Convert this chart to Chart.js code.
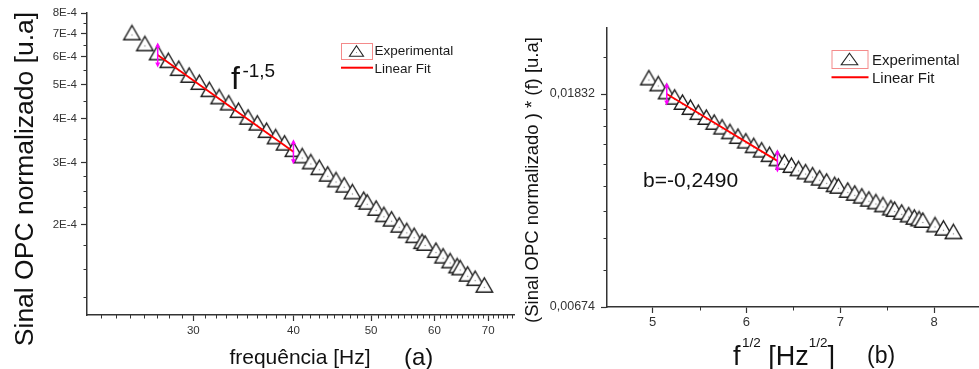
<!DOCTYPE html>
<html lang="pt">
<head>
<meta charset="utf-8">
<title>Sinal OPC normalizado</title>
<script src="https://cdn.jsdelivr.net/npm/chart.js@4.4.1/dist/chart.umd.min.js"></script>
<style>
  html, body { margin: 0; padding: 0; background: #fff; }
  #painel { position: relative; width: 979px; height: 369px; overflow: hidden; }
  #graficoA { position: absolute; left: 0; top: 0; }
  #graficoB { position: absolute; left: 518px; top: 0; }
</style>
</head>
<body>
<div id="painel">
  <canvas id="graficoA" width="518" height="369"></canvas>
  <canvas id="graficoB" width="461" height="369"></canvas>
</div>
<script>
// ---- painel (a): log-log, sinal x frequencia ----
const freqA = [25.15, 26.10, 27.08, 27.92, 28.77, 29.64, 30.52, 31.41, 32.31, 33.22,
               34.16, 35.11, 36.06, 37.03, 38.01, 39.00, 40.00, 41.02, 42.05, 43.09,
               44.14, 45.21, 46.29, 47.39, 48.95, 49.45, 50.74, 51.88, 53.04, 54.21,
               55.40, 56.59, 57.90, 58.40, 60.25, 61.50, 62.76, 64.03, 64.60, 66.00,
               67.43, 69.24];
const sinalA = [6.93e-4, 6.45e-4, 6.08e-4, 5.78e-4, 5.49e-4, 5.25e-4, 5.01e-4, 4.78e-4, 4.56e-4, 4.38e-4,
                4.17e-4, 3.99e-4, 3.84e-4, 3.66e-4, 3.51e-4, 3.37e-4, 3.23e-4, 3.10e-4, 2.98e-4, 2.87e-4,
                2.75e-4, 2.65e-4, 2.56e-4, 2.45e-4, 2.33e-4, 2.29e-4, 2.20e-4, 2.11e-4, 2.05e-4, 1.97e-4,
                1.90e-4, 1.84e-4, 1.77e-4, 1.75e-4, 1.67e-4, 1.61e-4, 1.56e-4, 1.51e-4, 1.49e-4, 1.43e-4,
                1.39e-4, 1.33e-4];
const ajusteFreqA = [27.08, 40.0];
const ajusteSinalA = [6.08e-4, 3.23e-4];
const ticksXA = [30, 40, 50, 60, 70];
const menoresXA = [23, 24, 25, 26, 27, 28, 29, 31, 32, 33, 34, 35, 36, 37, 38, 39,
                   41, 42, 43, 44, 45, 46, 47, 48, 49, 51, 52, 53, 54, 55, 56, 57, 58, 59,
                   61, 62, 63, 64, 65, 66, 67, 68, 69, 71, 72, 73, 74, 75];
const ticksYA = [2e-4, 3e-4, 4e-4, 5e-4, 6e-4, 7e-4, 8e-4];
const menoresYA = [1.25e-4, 1.5e-4, 1.75e-4, 2.25e-4, 2.5e-4, 2.75e-4, 3.5e-4, 4.5e-4, 5.5e-4, 6.5e-4, 7.5e-4];

// ---- painel (b): ln(sinal * f) x raiz de f ----
const raizFB = [4.96, 5.06, 5.15, 5.234, 5.318, 5.403, 5.487, 5.572, 5.656, 5.740,
                5.824, 5.909, 5.993, 6.077, 6.162, 6.246, 6.33, 6.405, 6.48, 6.555,
                6.63, 6.705, 6.78, 6.855, 6.94, 6.98, 7.08, 7.155, 7.23, 7.305,
                7.38, 7.455, 7.54, 7.58, 7.655, 7.73, 7.79, 7.84, 7.88, 8.01,
                8.10, 8.206];
const produtoB = [0.01956, 0.01902, 0.01832, 0.01787, 0.01744, 0.01703, 0.01663, 0.01625, 0.01588, 0.01553,
                  0.01519, 0.01486, 0.01454, 0.01423, 0.01394, 0.01365, 0.01338, 0.01317, 0.01297, 0.01277,
                  0.01258, 0.01240, 0.01222, 0.01204, 0.01185, 0.01176, 0.01154, 0.01138, 0.01123, 0.01107,
                  0.01093, 0.01078, 0.01062, 0.01055, 0.01041, 0.01028, 0.01017, 0.01009, 0.01002, 0.00981,
                  0.00966, 0.00950];
const ajusteXB = [5.15, 6.33];
const ajusteYB = [0.01832, 0.01338];
const ticksXB = [5, 6, 7, 8];
const menoresXB = [5.5, 6.5, 7.5];
const ticksYB = [0.0067379, 0.0183156];
const menoresYB = [0.008025, 0.009312, 0.010599, 0.011886, 0.013173, 0.014460, 0.015747, 0.017034, 0.021813];

const fonte = px => px + 'px "Liberation Sans", Arial, sans-serif';
Chart.defaults.font.family = '"Liberation Sans", Arial, sans-serif';

function pares(xs, ys) {
    return xs.map((v, i) => ({x: v, y: ys[i]}));
}

// simbolo do Origin: triangulo vazado com um pontinho no centro
function desenhaTriangulo(r) {
    const c = document.createElement('canvas');
    const w = Math.ceil(r * 2) + 4;
    c.width = w;
    c.height = w;
    const g = c.getContext('2d');
    const cx = w / 2, cy = w / 2;
    g.beginPath();
    for (let k = 0; k < 3; k++) {
        const a = k * 2 * Math.PI / 3;
        g.lineTo(cx + Math.sin(a) * r, cy - Math.cos(a) * r);
    }
    g.closePath();
    g.fillStyle = '#fff';
    g.fill();
    g.strokeStyle = '#1a1a1a';
    g.lineWidth = 1.4;
    g.stroke();
    g.fillStyle = '#888';
    g.fillRect(cx - 0.6, cy - 0.6, 1.2, 1.2);
    return c;
}
const triangulo = desenhaTriangulo(9.5);

// tiques menores (mais curtos) desenhados pela escala do proprio grafico
const tiquesMenores = {
    id: 'tiquesMenores',
    afterDraw(chart, args, opts) {
        const {ctx, scales: {x, y}} = chart;
        ctx.save();
        ctx.strokeStyle = '#333';
        ctx.lineWidth = 1;
        ctx.beginPath();
        opts.x.forEach(v => {
            if (v < x.min || v > x.max) return;
            const px = Math.round(x.getPixelForValue(v)) + 0.5;
            ctx.moveTo(px, x.top);
            ctx.lineTo(px, x.top + opts.tamanho);
        });
        opts.y.forEach(v => {
            if (v < y.min || v > y.max) return;
            const py = Math.round(y.getPixelForValue(v)) + 0.5;
            ctx.moveTo(y.right - opts.tamanho, py);
            ctx.lineTo(y.right, py);
        });
        ctx.stroke();
        ctx.restore();
    }
};

// setas magenta nos limites do ajuste
const marcasAjuste = {
    id: 'marcasAjuste',
    afterDatasetsDraw(chart, args, opts) {
        const {ctx, scales: {x, y}} = chart;
        const pts = chart.data.datasets[0].data;
        const h = opts.meiaAltura;
        ctx.save();
        ctx.strokeStyle = '#ff00ff';
        ctx.fillStyle = '#ff00ff';
        ctx.lineWidth = 1.5;
        [pts[0], pts[pts.length - 1]].forEach(p => {
            const px = x.getPixelForValue(p.x);
            const py = y.getPixelForValue(p.y);
            ctx.beginPath();
            ctx.moveTo(px, py - h + 3);
            ctx.lineTo(px, py + h - 3);
            ctx.stroke();
            ctx.beginPath();
            ctx.moveTo(px, py - h);
            ctx.lineTo(px - 2.5, py - h + 5);
            ctx.lineTo(px + 2.5, py - h + 5);
            ctx.closePath();
            ctx.moveTo(px, py + h);
            ctx.lineTo(px - 2.5, py + h - 5);
            ctx.lineTo(px + 2.5, py + h - 5);
            ctx.closePath();
            ctx.fill();
        });
        ctx.restore();
    }
};

// legenda no estilo do Origin (caixa vermelha em volta do simbolo)
const legendaOrigin = {
    id: 'legendaOrigin',
    afterDraw(chart, args, o) {
        const ctx = chart.ctx;
        ctx.save();
        ctx.strokeStyle = '#f48a8a';
        ctx.lineWidth = 1;
        ctx.strokeRect(o.x + 0.5, o.y + 0.5, o.larg, o.alt);
        const cx = o.x + o.larg / 2, cy = o.y + o.alt / 2;
        ctx.beginPath();
        ctx.moveTo(cx, cy - o.triAlt / 2);
        ctx.lineTo(cx + o.triLarg / 2, cy + o.triAlt / 2);
        ctx.lineTo(cx - o.triLarg / 2, cy + o.triAlt / 2);
        ctx.closePath();
        ctx.strokeStyle = '#222';
        ctx.lineWidth = 1.1;
        ctx.stroke();
        ctx.fillStyle = '#999';
        ctx.fillRect(cx - 0.5, cy + 1, 1, 1);
        ctx.strokeStyle = '#ff0000';
        ctx.lineWidth = 2;
        ctx.beginPath();
        ctx.moveTo(o.x, o.linhaY);
        ctx.lineTo(o.x + o.larg + 1, o.linhaY);
        ctx.stroke();
        ctx.fillStyle = '#1a1a1a';
        ctx.font = fonte(o.tamFonte);
        ctx.textBaseline = 'alphabetic';
        ctx.fillText(chart.data.datasets[1].label, o.textoX, o.base1);
        ctx.fillText(chart.data.datasets[0].label, o.textoX, o.base2);
        ctx.restore();
    }
};

// titulos dos eixos e anotacoes (com sobrescritos)
const textos = {
    id: 'textos',
    afterDraw(chart, args, opts) {
        const ctx = chart.ctx;
        opts.itens.forEach(item => {
            ctx.save();
            ctx.translate(item.x, item.y);
            if (item.girar) ctx.rotate(-Math.PI / 2);
            ctx.fillStyle = item.cor || '#111';
            ctx.textBaseline = 'alphabetic';
            let largura = 0;
            item.partes.forEach(p => {
                ctx.font = p.fonte;
                largura += ctx.measureText(p.t).width + (p.dx || 0);
            });
            let cx = item.centro ? -largura / 2 : 0;
            item.partes.forEach(p => {
                ctx.font = p.fonte;
                cx += p.dx || 0;
                ctx.fillText(p.t, cx, -(p.sobe || 0));
                cx += ctx.measureText(p.t).width;
            });
            ctx.restore();
        });
    }
};

function eixo(extra) {
    return Object.assign({
        border: {display: true, color: '#333', width: 1.5},
        grid: {drawOnChartArea: false, drawTicks: true, tickLength: 6, tickColor: '#333', tickWidth: 1.2}
    }, extra);
}

function graficoA(ctx) {
    return new Chart(ctx, {
        type: 'scatter',
        data: {
            datasets: [
                {
                    label: 'Linear Fit',
                    data: pares(ajusteFreqA, ajusteSinalA),
                    showLine: true,
                    borderColor: '#ff0000',
                    borderWidth: 1.8,
                    pointRadius: 0,
                    order: 0
                },
                {
                    label: 'Experimental',
                    data: pares(freqA, sinalA),
                    pointStyle: triangulo,
                    pointRadius: 10,
                    order: 1
                }
            ]
        },
        options: {
            responsive: false,
            animation: false,
            events: [],
            layout: {autoPadding: false, padding: {top: 13, right: 4, left: 0, bottom: 0}},
            plugins: {
                legend: {display: false},
                tooltip: {enabled: false},
                tiquesMenores: {x: menoresXA, y: menoresYA, tamanho: 3.5},
                marcasAjuste: {meiaAltura: 12.5},
                legendaOrigin: {x: 341, y: 43, larg: 31, alt: 16, triLarg: 14, triAlt: 10.5,
                                linhaY: 67.7, textoX: 374.5, base1: 54.5, base2: 72.7, tamFonte: 13.5},
                textos: {
                    itens: [
                        {x: 32.5, y: 179, girar: true, centro: true,
                         partes: [{t: 'Sinal OPC normalizado [u.a]', fonte: fonte(26.5)}]},
                        {x: 300, y: 363.5, centro: true, partes: [{t: 'frequência [Hz]', fonte: fonte(21)}]},
                        {x: 404, y: 365, partes: [{t: '(a)', fonte: fonte(24)}]},
                        {x: 231, y: 89, partes: [
                            {t: 'f', fonte: fonte(32)},
                            {t: '-1,5', fonte: fonte(19), sobe: 12, dx: 2.5}
                        ]}
                    ]
                }
            },
            scales: {
                x: eixo({
                    type: 'logarithmic',
                    min: 22.1,
                    max: 75.4,
                    afterBuildTicks: s => { s.ticks = ticksXA.map(v => ({value: v})); },
                    afterFit: s => { s.height = 54; },
                    ticks: {autoSkip: false, maxRotation: 0, color: '#333', font: {size: 11.5}, padding: 3,
                            callback: v => String(v)}
                }),
                y: eixo({
                    type: 'logarithmic',
                    min: 1.11e-4,
                    max: 8e-4,
                    afterBuildTicks: s => { s.ticks = ticksYA.map(v => ({value: v})); },
                    afterFit: s => { s.width = 87; },
                    ticks: {autoSkip: false, color: '#333', font: {size: 11.5}, padding: 4,
                            callback: v => Math.round(v * 1e4) + 'E-4'}
                })
            }
        },
        plugins: [tiquesMenores, marcasAjuste, legendaOrigin, textos]
    });
}

function graficoB(ctx) {
    return new Chart(ctx, {
        type: 'scatter',
        data: {
            datasets: [
                {
                    label: 'Linear Fit',
                    data: pares(ajusteXB, ajusteYB),
                    showLine: true,
                    borderColor: '#ff0000',
                    borderWidth: 1.8,
                    pointRadius: 0,
                    order: 0
                },
                {
                    label: 'Experimental',
                    data: pares(raizFB, produtoB),
                    pointStyle: triangulo,
                    pointRadius: 10,
                    order: 1
                }
            ]
        },
        options: {
            responsive: false,
            animation: false,
            events: [],
            layout: {autoPadding: false, padding: {top: 28, right: 0, left: 0, bottom: 0}},
            plugins: {
                legend: {display: false},
                tooltip: {enabled: false},
                tiquesMenores: {x: menoresXB, y: menoresYB, tamanho: 3.5},
                marcasAjuste: {meiaAltura: 11.5},
                legendaOrigin: {x: 313.5, y: 50, larg: 36, alt: 18, triLarg: 16.5, triAlt: 11.5,
                                linhaY: 77.3, textoX: 354, base1: 64.5, base2: 83.3, tamFonte: 15},
                textos: {
                    itens: [
                        {x: 19.8, y: 180, girar: true, centro: true,
                         partes: [{t: '(Sinal OPC normalizado ) * (f) [u.a]', fonte: fonte(18.5)}]},
                        {x: 215, y: 365, partes: [
                            {t: 'f', fonte: fonte(27)},
                            {t: '1/2', fonte: fonte(13.5), sobe: 18, dx: 1.5},
                            {t: ' [Hz', fonte: fonte(27)},
                            {t: '1/2', fonte: fonte(13.5), sobe: 18},
                            {t: ']', fonte: fonte(27)}
                        ]},
                        {x: 349, y: 363, partes: [{t: '(b)', fonte: fonte(23)}]},
                        {x: 125, y: 187, partes: [{t: 'b=-0,2490', fonte: fonte(21)}]}
                    ]
                }
            },
            scales: {
                x: eixo({
                    type: 'linear',
                    min: 4.513,
                    max: 8.479,
                    afterBuildTicks: s => { s.ticks = ticksXB.map(v => ({value: v})); },
                    afterFit: s => { s.height = 62; },
                    ticks: {autoSkip: false, maxRotation: 0, color: '#333', font: {size: 13}, padding: 2,
                            callback: v => String(v)}
                }),
                y: eixo({
                    type: 'logarithmic',
                    min: 0.0067379,
                    max: 0.02497,
                    afterBuildTicks: s => { s.ticks = ticksYB.map(v => ({value: v})); },
                    afterFit: s => { s.width = 89; },
                    ticks: {autoSkip: false, color: '#333', font: {size: 12.5}, padding: 6,
                            callback: v => v.toFixed(5).replace('.', ',')}
                })
            }
        },
        plugins: [tiquesMenores, marcasAjuste, legendaOrigin, textos]
    });
}

function renderCharts() {
    graficoA(document.getElementById('graficoA').getContext('2d'));
    graficoB(document.getElementById('graficoB').getContext('2d'));
}

renderCharts();
</script>
</body>
</html>
